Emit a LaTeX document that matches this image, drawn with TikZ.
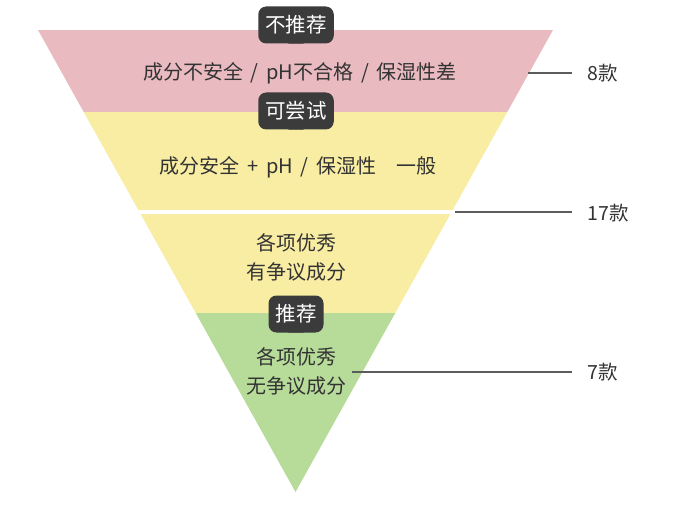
\documentclass[tikz,border=0pt]{standalone}
\usepackage{fontspec}
\setmainfont{Noto Sans CJK SC}
\definecolor{pinkb}{HTML}{E9BBC0}
\definecolor{yelb}{HTML}{F8EDA3}
\definecolor{greenb}{HTML}{B7DC9A}
\definecolor{tagc}{HTML}{3B3B3B}
\definecolor{txt}{HTML}{333333}
\begin{document}
\begin{tikzpicture}[x=1pt,y=-1pt,
  lbl/.style={text=txt,font=\fontsize{20}{29}\selectfont,align=center},
  tagbox/.style={fill=tagc,text=white,rounded corners=8pt,minimum height=37pt,inner xsep=7pt,font=\fontsize{20.5}{24}\selectfont},
  cnt/.style={text=txt,font=\fontsize{19.5}{22}\selectfont,anchor=west},
  lead/.style={draw=txt!80,line width=1.1pt}]
\useasboundingbox (0,0) rectangle (680,505);
\begin{scope}
\clip (38,30) -- (553,30) -- (295.5,492) -- cycle;
\fill[pinkb] (0,30) rectangle (680,112);
\fill[yelb] (0,112) rectangle (680,210);
\fill[yelb] (0,214) rectangle (680,313);
\fill[greenb] (0,313) rectangle (680,505);
\end{scope}
\node[lbl] (t1) at (300,73) {成分不安全 \,/\, pH不合格 \,/\, 保湿性差};
\node[lbl] (t2) at (298,167) {成分安全 \,+\, pH \,/\, 保湿性\quad 一般};
\node[lbl] (t3) at (296,257) {各项优秀\\有争议成分};
\node[lbl] (t4) at (296,371) {各项优秀\\无争议成分};
\foreach \n/\t/\y in {g1/不推荐/25,g2/可尝试/111,g3/推荐/314}{
  \node[tagbox] (\n) at (296,\y) {\t};
  \fill[tagc] ([xshift=-8pt]\n.south) -- ([yshift=5pt]\n.south) -- ([xshift=8pt]\n.south) -- cycle;
}
\coordinate (a1) at (528,73); \coordinate (b1) at (572,73);
\coordinate (a2) at (455,212); \coordinate (b2) at (572,212);
\coordinate (a3) at (352,372); \coordinate (b3) at (572,372);
\draw[lead] (a1) -- (b1); \draw[lead] (a2) -- (b2); \draw[lead] (a3) -- (b3);
\node[cnt] (c1) at (584,73) {8款};
\node[cnt] (c2) at (584,213) {17款};
\node[cnt] (c3) at (584,372) {7款};
\end{tikzpicture}
\end{document}
